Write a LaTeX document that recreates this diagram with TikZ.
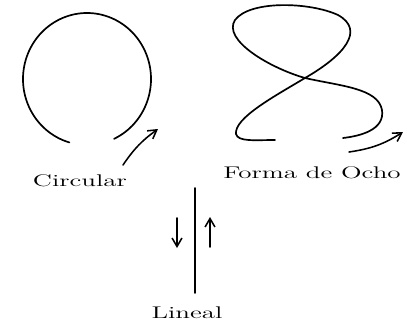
\documentclass[tikz,border=0pt]{standalone}
\usepackage{tikz}
\usetikzlibrary{arrows.meta,positioning}

\begin{document}
\begin{tikzpicture}[
    x=0.025cm, y=-0.025cm,
    stroke/.style={line width=1.2pt, line cap=round, line join=round},
    arrow/.style={-{Straight Barb[length=6pt,width=7pt]}, line width=1.1pt, line cap=round},
    label/.style={font=\large, inner sep=1pt}
]
\useasboundingbox (0,0) rectangle (407,330);

% circular
\coordinate (cc) at (87,79);
\draw[stroke] (cc) ++(65:64 and 66) arc[start angle=65, end angle=-254, x radius=64, y radius=66];
\coordinate (ca) at (123,165);
\coordinate (cb) at (158,129);
\draw[arrow] (ca) to[bend left=10] (cb);
\node[label] (circ) at (80,181) {\scalebox{1.6}[1]{Circular}};

% forma de ocho
\draw[stroke] (275,140) .. controls (255,140) and (238,142) .. (236,134)
    .. controls (234,118) and (275,96) .. (305,78)
    .. controls (345,55) and (365,30) .. (338,15)
    .. controls (310,2) and (250,0) .. (235,20)
    .. controls (222,40) and (270,68) .. (305,78)
    .. controls (340,86) and (378,88) .. (382,110)
    .. controls (385,130) and (360,136) .. (343,138);
\coordinate (oa) at (349,152);
\coordinate (ob) at (403,132);
\draw[arrow] (oa) to[bend right=12] (ob);
\node[label] (ocho) at (312,173) {\scalebox{1.6}[1]{Forma de Ocho}};

% lineal
\coordinate (lt) at (195,188);
\coordinate (lb) at (195,293);
\draw[stroke] (lt) -- (lb);
\coordinate (da) at (177,218);
\coordinate (db) at (177,248);
\draw[arrow] (da) -- (db);
\coordinate (ua) at (210,247);
\coordinate (ub) at (210,217);
\draw[arrow] (ua) -- (ub);
\node[label] (lin) at (187,313) {\scalebox{1.6}[1]{Lineal}};

\end{tikzpicture}
\end{document}
